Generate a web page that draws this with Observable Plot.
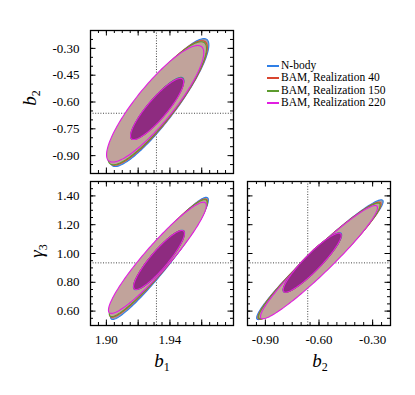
<!DOCTYPE html>
<html><head><meta charset="utf-8">
<script src="https://cdn.jsdelivr.net/npm/d3@7"></script>
<script src="https://cdn.jsdelivr.net/npm/@observablehq/plot@0.6"></script>
<style>
body{margin:0;background:#fff;}
#wrap{position:relative;width:415px;height:395px;overflow:hidden;font-family:"Liberation Serif",serif;color:#000;}
.panel{position:absolute;}
.lab{position:absolute;font-style:italic;font-size:19px;line-height:1;white-space:nowrap;transform:translate(-50%,-50%);}
.lab sub{font-style:normal;font-size:12px;}
.rot{transform:translate(-50%,-50%) rotate(-90deg);}
.leg{position:absolute;font-size:11.5px;line-height:11px;height:11px;white-space:nowrap;}
.legline{position:absolute;width:12px;height:2px;}
</style></head><body><div id="wrap"></div>
<script>
// ---- data ----
const series = ["N-body", "BAM, Realization 40", "BAM, Realization 150", "BAM, Realization 220"];
const lineColors = ["#2f7fe6", "#d9452f", "#5c9b2e", "#e11ee1"];
const outerFill = ["#a39b9e", "#c1a39b", "#c1a39b", "#c1a39b"];
const innerFill = ["#8c6a86", "#8e2b80", "#8e2b80", "#8e2b80"];

const b1Domain = [1.89, 1.98];
const b2Domain = [-1.0, -0.2];
const g3Domain = [0.5, 1.5];
const truthB1 = 1.9315, truthB2 = -0.663, truthG3 = 0.935;

const b1Labels = [1.90, 1.94];
const b2LabelsY = [-0.90, -0.75, -0.60, -0.45, -0.30];
const b2LabelsX = [-0.90, -0.60, -0.30];
const g3Labels = [0.60, 0.80, 1.00, 1.20, 1.40];

// contour parameters per series: [centre x, centre y, sigma x, sigma y, correlation]
// outer = 2-sigma contour, inner = 1-sigma contour
const b1b2Outer = [[1.9335, -0.603, 0.0155, 0.179, 0.90], [1.9325, -0.605, 0.0155, 0.174, 0.89], [1.9320, -0.607, 0.0155, 0.172, 0.89], [1.9307, -0.610, 0.0153, 0.163, 0.875]];
const b1b2Inner = [[1.9320, -0.636, 0.0168, 0.174, 0.89], [1.9320, -0.638, 0.0167, 0.172, 0.885], [1.9319, -0.638, 0.0167, 0.172, 0.885], [1.9319, -0.639, 0.0167, 0.171, 0.88]];
const b1g3Outer = [[1.9334, 0.966, 0.0154, 0.212, 0.955], [1.9328, 0.968, 0.0154, 0.205, 0.95], [1.9326, 0.968, 0.0154, 0.203, 0.95], [1.9321, 0.970, 0.0154, 0.193, 0.94]];
const b1g3Inner = [[1.9331, 0.955, 0.0161, 0.207, 0.905], [1.9331, 0.955, 0.0160, 0.205, 0.90], [1.9331, 0.955, 0.0160, 0.205, 0.90], [1.9331, 0.955, 0.0160, 0.205, 0.90]];
const b2g3Outer = [[-0.595, 0.957, 0.177, 0.208, 0.97], [-0.597, 0.950, 0.172, 0.203, 0.965], [-0.598, 0.948, 0.170, 0.201, 0.965], [-0.600, 0.940, 0.1636, 0.1966, 0.96]];
const b2g3Inner = [[-0.637, 0.937, 0.164, 0.207, 0.925], [-0.638, 0.936, 0.162, 0.205, 0.92], [-0.638, 0.936, 0.162, 0.205, 0.92], [-0.638, 0.936, 0.162, 0.205, 0.92]];

// ---- drawing ----
function contour(p, r) {
  const [cx, cy, sx, sy, rho] = p, q = Math.sqrt(1 - rho * rho);
  return d3.range(0, 181).map(i => {
    const t = i / 180 * 2 * Math.PI;
    return [cx + r * sx * Math.cos(t), cy + r * sy * (rho * Math.cos(t) + q * Math.sin(t))];
  });
}
const fmt = d => d.toFixed(2);

function panel(o) {
  const FW = o.width - o.ml - o.mr, FH = o.height - o.mt - o.mb;
  const marks = [
    Plot.ruleX([o.truthX], {stroke: "#444", strokeWidth: 1, strokeDasharray: "1,1.6"}),
    Plot.ruleY([o.truthY], {stroke: "#444", strokeWidth: 1, strokeDasharray: "1,1.6"})
  ];
  o.outer.forEach((p, i) => marks.push(Plot.line(contour(p, 2), {x: d => d[0], y: d => d[1], fill: outerFill[i], stroke: lineColors[i], strokeWidth: 1.1})));
  o.inner.forEach((p, i) => marks.push(Plot.line(contour(p, 1), {x: d => d[0], y: d => d[1], fill: innerFill[i], stroke: lineColors[i], strokeWidth: 1.1})));
  const tk = (arr, len, dir) => dir === "x"
    ? [Plot.ruleX(arr, {x: d => d, insetTop: FH - len, stroke: "#000"}), Plot.ruleX(arr, {x: d => d, insetBottom: FH - len, stroke: "#000"})]
    : [Plot.ruleY(arr, {y: d => d, insetRight: FW - len, stroke: "#000"}), Plot.ruleY(arr, {y: d => d, insetLeft: FW - len, stroke: "#000"})];
  marks.push(...tk(o.xMinor, 3, "x"), ...tk(o.xMajor, 5.5, "x"), ...tk(o.yMinor, 3, "y"), ...tk(o.yMajor, 5.5, "y"));
  if (o.xLabels) marks.push(Plot.axisX(o.xLabels, {tickSize: 0, tickPadding: 9, tickFormat: fmt, label: null}));
  if (o.yLabels) marks.push(Plot.axisY(o.yLabels, {tickSize: 0, tickPadding: 11, tickFormat: fmt, label: null}));
  marks.push(Plot.frame({stroke: "#000", strokeWidth: 1.3}));
  const svg = Plot.plot({
    width: o.width, height: o.height,
    marginLeft: o.ml, marginRight: o.mr, marginTop: o.mt, marginBottom: o.mb,
    x: Object.assign({domain: o.xDomain}, o.xLabels ? {} : {axis: null}),
    y: Object.assign({domain: o.yDomain}, o.yLabels ? {} : {axis: null}),
    style: {fontFamily: "Liberation Serif", fontSize: "13px", background: "transparent", color: "#000", overflow: "visible"},
    marks
  });
  const div = document.createElement("div");
  div.className = "panel";
  div.style.left = o.left + "px"; div.style.top = o.top + "px";
  div.appendChild(svg);
  document.getElementById("wrap").appendChild(div);
}

const step = (a, b, s) => d3.range(Math.round(a / s), Math.round(b / s) + 1).map(k => +(k * s).toFixed(4));
const b1Minor = step(1.89, 1.98, 0.005), b1Major = step(1.90, 1.98, 0.02);
const b2Minor = step(-1.0, -0.2, 0.05), b2Major = b2LabelsY;
const g3Minor = step(0.5, 1.5, 0.05), g3Major = g3Labels;

panel({left: 0, top: 0, width: 240, height: 180, ml: 90, mr: 7, mt: 30, mb: 7,
  xDomain: b1Domain, yDomain: b2Domain, xMinor: b1Minor, xMajor: b1Major, yMinor: b2Minor, yMajor: b2Major,
  yLabels: b2LabelsY, truthX: truthB1, truthY: truthB2, outer: b1b2Outer, inner: b1b2Inner});
panel({left: 0, top: 176, width: 240, height: 219, ml: 90, mr: 7, mt: 5, mb: 70,
  xDomain: b1Domain, yDomain: g3Domain, xMinor: b1Minor, xMajor: b1Major, yMinor: g3Minor, yMajor: g3Major,
  xLabels: b1Labels, yLabels: g3Labels, truthX: truthB1, truthY: truthG3, outer: b1g3Outer, inner: b1g3Inner});
panel({left: 240, top: 176, width: 175, height: 219, ml: 7, mr: 25, mt: 5, mb: 70,
  xDomain: b2Domain, yDomain: g3Domain, xMinor: b2Minor, xMajor: b2LabelsX, yMinor: g3Minor, yMajor: g3Major,
  xLabels: b2LabelsX, truthX: truthB2, truthY: truthG3, outer: b2g3Outer, inner: b2g3Inner});

// axis titles
const wrap = document.getElementById("wrap");
function lab(html, x, y, rot) {
  const d = document.createElement("div");
  d.className = "lab" + (rot ? " rot" : "");
  d.innerHTML = html; d.style.left = x + "px"; d.style.top = y + "px";
  wrap.appendChild(d);
}
lab("b<sub>2</sub>", 31, 98, true);
lab("γ<sub>3</sub>", 38, 251, true);
lab("b<sub>1</sub>", 162, 362, false);
lab("b<sub>2</sub>", 320, 362, false);

// legend
series.forEach((s, i) => {
  const top = Math.round(60 + i * 12.3);
  const ln = document.createElement("div");
  ln.className = "legline";
  ln.style.left = "267px"; ln.style.top = (top + 5) + "px";
  ln.style.background = lineColors[i];
  wrap.appendChild(ln);
  const d = document.createElement("div");
  d.className = "leg";
  d.style.left = "281px"; d.style.top = top + "px";
  d.textContent = s;
  wrap.appendChild(d);
});
</script>
</body></html>
